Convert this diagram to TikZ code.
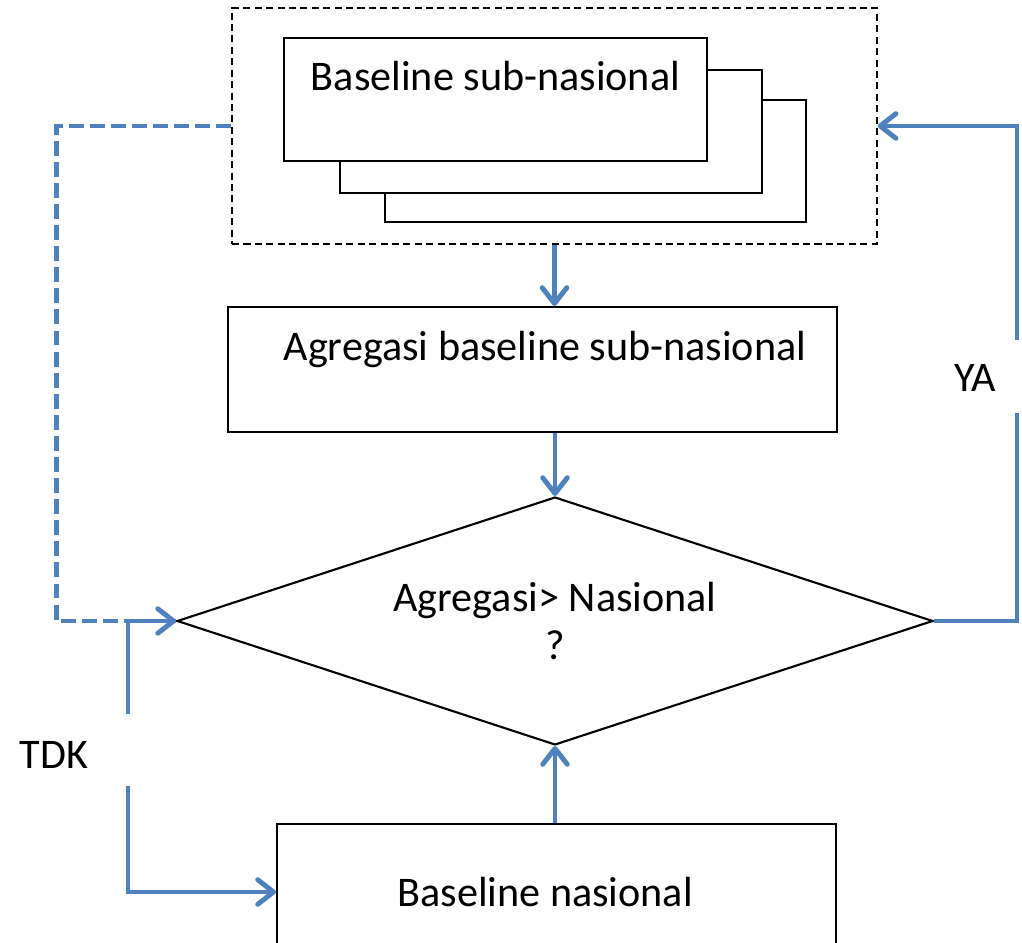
\documentclass[tikz,border=0pt]{standalone}
\usepackage{fontspec}
\setmainfont{Carlito}
\usetikzlibrary{arrows.meta,shapes.geometric}
\definecolor{acc}{HTML}{4F81BD}
\newcommand{\bigtxt}{\fontsize{24}{27}\selectfont}
\tikzset{
  box/.style={draw=black,line width=1.2pt,fill=white,align=center,inner sep=0pt,font=\bigtxt},
  bbox/.style={draw=black,line width=1.2pt,fill=white},
  grp/.style={draw=black,line width=0.8pt,dash pattern=on 4pt off 2.5pt},
  ask/.style={diamond,aspect=3.05,draw=black,line width=1.2pt,align=center,inner sep=0pt,font=\bigtxt},
  ln/.style={draw=acc,line width=2.8pt},
  ar/.style={ln,-{Straight Barb[length=9pt,width=14pt,round]}},
  lbl/.style={font=\bigtxt,inner sep=0pt},
}
\begin{document}
\begin{tikzpicture}[x=0.02cm,y=-0.02cm]
\useasboundingbox (0,0) rectangle (1022,943);
% stacked sub-national boxes
\node[grp,minimum width=12.9cm,minimum height=4.72cm] (grp) at (554.5,126) {};
\node[bbox,minimum width=8.42cm,minimum height=2.44cm] (subC) at (595.5,161) {};
\node[bbox,minimum width=8.44cm,minimum height=2.46cm] (subB) at (551,131.5) {};
\node[box,minimum width=8.46cm,minimum height=2.46cm] (subA) at (495.5,99.5) {Baseline sub-nasional\\\mbox{}};
% aggregation and check
\node[box,minimum width=12.18cm,minimum height=2.5cm] (agg) at (532.5,369.5) {\hspace*{0.5cm}Agregasi baseline sub-nasional\\\mbox{}};
\node[ask,minimum width=15.12cm,minimum height=4.96cm] (cmp) at (555,621) {Agregasi> Nasional\\?};
\node[box,minimum width=11.18cm,minimum height=2.72cm] (nas) at (556.5,892) {Baseline nasional\hspace*{0.45cm}};
% labels on the loops
\node[lbl] (ya) at (975,378) {YA};
\node[lbl] (tdk) at (54,755) {TDK};
\coordinate (yaT) at (1017,340);
\coordinate (yaB) at (1017,413);
\coordinate (tdkT) at (128,714);
\coordinate (tdkB) at (128,786);
% connectors
\draw[ar,dash pattern=on 8.5pt off 3.5pt] (grp.west) -- ++(-175,0) |- (cmp.west);
\draw[ar] (grp.south) -- (grp.south |- agg.north);
\draw[ar] (agg.south -| cmp.north) -- (cmp.north);
\draw[ar] (nas.north -| cmp.south) -- (cmp.south);
\draw[ln] (cmp.east) -| (yaB);
\draw[ar] (yaT) |- (grp.east);
\draw[ln] (cmp.west) -| (tdkT);
\draw[ar] (tdkB) |- (nas.west);
\end{tikzpicture}
\end{document}
